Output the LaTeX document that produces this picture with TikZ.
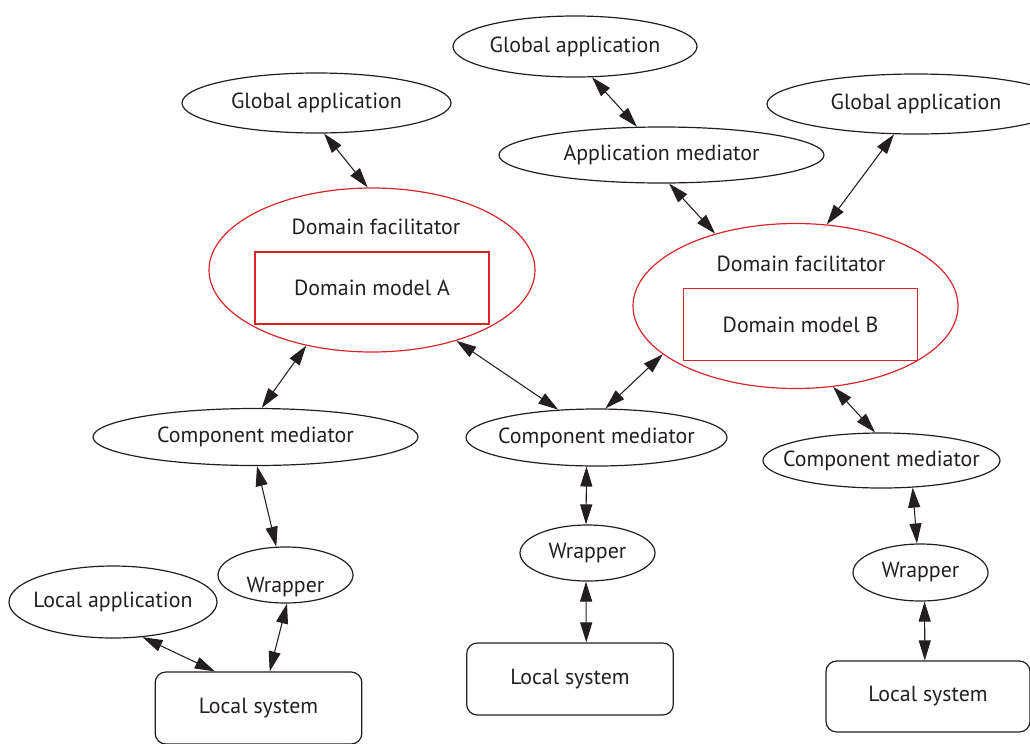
\documentclass[tikz,border=0pt]{standalone}
\usepackage{fontspec}
\setmainfont{PT Sans}
\usetikzlibrary{shapes.geometric,arrows.meta}
\definecolor{facred}{RGB}{218,37,42}
\definecolor{ink}{RGB}{35,31,32}

\tikzset{
  oval/.style={draw=ink, line width=0.9pt, ellipse, inner xsep=-25pt, inner ysep=-5pt, text=ink},
  facil/.style={draw=facred, line width=0.9pt, ellipse, inner sep=0pt},
  modelbox/.style={draw=facred, line width=0.9pt, rectangle, inner sep=0pt, text=ink,
    minimum width=175.5pt, minimum height=54pt},
  sysbox/.style={draw=ink, line width=0.9pt, rectangle, rounded corners=8pt, inner sep=0pt,
    text=ink, minimum width=155pt, minimum height=54pt},
  link/.style={{Triangle[length=15pt,width=9pt]}-{Triangle[length=15pt,width=9pt]},
    draw=ink, line width=0.8pt}
}

\begin{document}
\begin{tikzpicture}[x=0.75pt, y=-0.75pt, font=\fontsize{16.4}{19}\selectfont]
\useasboundingbox (0,0) rectangle (1030,743);
\clip (0,0) rectangle (1030,743);

\node [oval, minimum width=201.75pt, minimum height=45pt] (ga1) at (316.5,103) {Global application};
\node [oval, minimum width=183pt, minimum height=45.75pt] (ga2) at (575,46.5) {Global application};
\node [oval, minimum width=223.5pt, minimum height=45pt] (ga3) at (916,104) {Global application};
\node [oval, minimum width=243.75pt, minimum height=42pt] (appmed) at (661.5,155) {Application mediator};

\node [facil, minimum width=244.5pt, minimum height=123pt] (facA) at (372,270) {};
\node [text=ink] (facAtxt) at (376,227) {Domain facilitator};
\node [modelbox] (modA) at (372,288) {Domain model A};
\node [facil, minimum width=243.75pt, minimum height=123.75pt] (facB) at (795.5,306) {};
\node [text=ink] (facBtxt) at (801,264) {Domain facilitator};
\node [modelbox] (modB) at (800.5,324.5) {Domain model B};

\node [oval, minimum width=243.75pt, minimum height=42.75pt] (cmA) at (255.5,437) {Component mediator};
\node [oval, minimum width=195.75pt, minimum height=42.75pt] (cmC) at (596.5,437.5) {Component mediator};
\node [oval, minimum width=177.75pt, minimum height=41.25pt] (cmB) at (881.5,460.5) {Component mediator};

\node [oval, minimum width=101.25pt, minimum height=42pt, text height=26pt, text depth=0pt] (wrapA) at (285.5,575) {Wrapper};
\node [oval, minimum width=101.25pt, minimum height=42pt] (wrapC) at (587.5,553) {Wrapper};
\node [oval, minimum width=101.25pt, minimum height=42.75pt] (wrapB) at (920.5,572.5) {Wrapper};
\node [oval, minimum width=156pt, minimum height=54pt] (localapp) at (113,602) {Local application};

\node [sysbox] (lsA) at (258.5,708) {Local system};
\node [sysbox] (lsC) at (570,679) {Local system};
\node [sysbox, minimum width=153pt, minimum height=53.25pt] (lsB) at (928,696.5) {Local system};

\draw [link] (ga1.-76) -- (facA.93);
\draw [link] (ga2.-61) -- (appmed.131);
\draw [link] (appmed.-75) -- (facB.138);
\draw [link] (ga3.-126) -- (facB.69);
\draw [link] (facA.-131) -- (cmA.78);
\draw [link] (facA.-40) -- (cmC.144);
\draw [link] (facB.-160) -- (cmC.73);
\draw [link] (facB.-65) -- (cmB.103);
\draw [link] (cmA.-87) -- (wrapA.108);
\draw [link] (cmC.-109) -- (wrapC.93);
\draw [link] (cmB.-41) -- (wrapB.97);
\draw [link] (wrapA.-87) -- (lsA.73);
\draw [link] (localapp.-50) -- (lsA.140);
\draw [link] (wrapC.-93) -- (lsC.66);
\draw [link] (wrapB.-82) -- (lsB.95);
\end{tikzpicture}
\end{document}
